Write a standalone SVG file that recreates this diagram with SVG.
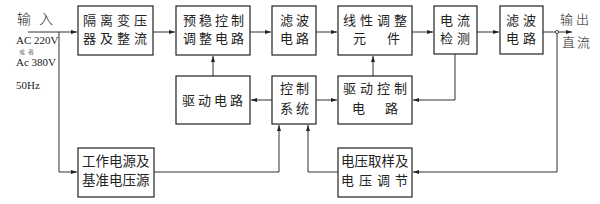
<svg xmlns="http://www.w3.org/2000/svg" width="600" height="204" viewBox="0 0 600 204">
<style>
.box{fill:#fff;stroke:#222;stroke-width:1.2}
.t{font-family:"Liberation Serif","Noto Sans CJK SC",serif;font-size:13px;fill:#222}
.c{font-family:"Noto Sans CJK SC",sans-serif;font-weight:300;font-size:13px;fill:#222}
.s{font-family:"Liberation Serif",serif;font-size:11px;fill:#222}
.ln{fill:none;stroke:#333;stroke-width:1}
</style>
<defs>
<marker id="a" viewBox="0 0 6 4" refX="6" refY="2" markerWidth="6" markerHeight="4" markerUnits="userSpaceOnUse" orient="auto">
<path d="M0,0L6,2L0,4z" fill="#222"/>
</marker>
</defs>
<rect width="600" height="204" fill="#fff"/>
<g id="labels">
<text class="c" x="17" y="24" style="font-size:14px;letter-spacing:8px">输入</text>
<text class="s" x="16" y="44">AC 220V</text>
<text class="c" x="19" y="54" style="font-size:6px;letter-spacing:3px">或者</text>
<text class="s" x="16" y="66">Ac 380V</text>
<text class="s" x="16" y="89">50Hz</text>
<text class="c" x="560" y="24" style="letter-spacing:3px">输出</text>
<text class="c" x="562" y="47" style="letter-spacing:2px">直流</text>
</g>
<g id="connectors">
<path class="ln" d="M28,32H77" marker-end="url(#a)"/>
<path class="ln" d="M59,32V172H77" marker-end="url(#a)"/>
<path class="ln" d="M153,32H175" marker-end="url(#a)"/>
<path class="ln" d="M250,32H271" marker-end="url(#a)"/>
<path class="ln" d="M316,32H337" marker-end="url(#a)"/>
<path class="ln" d="M412,32H433" marker-end="url(#a)"/>
<path class="ln" d="M477,32H499" marker-end="url(#a)"/>
<path class="ln" d="M543,32H555.5"/>
<path class="ln" d="M558.5,32H572" marker-end="url(#a)"/>
<path class="ln" d="M557,33.5V172H413" marker-end="url(#a)"/>
<path class="ln" d="M272,100H251" marker-end="url(#a)"/>
<path class="ln" d="M316,100H337" marker-end="url(#a)"/>
<path class="ln" d="M213,76V56" marker-end="url(#a)"/>
<path class="ln" d="M373,76V56" marker-end="url(#a)"/>
<path class="ln" d="M455,54V100H413" marker-end="url(#a)"/>
<path class="ln" d="M154,172H279V125" marker-end="url(#a)"/>
<path class="ln" d="M338,172H308V125" marker-end="url(#a)"/>
<circle cx="557" cy="32" r="1.6" fill="#fff" stroke="#333" stroke-width="0.9"/>
</g>
<g id="n1"><rect class="box" x="78" y="6" width="75" height="49"/>
<text class="t" x="83" y="24.5" style="letter-spacing:4px">隔离变压</text>
<text class="t" x="83" y="43" style="letter-spacing:4px">器及整流</text></g>
<g id="n2"><rect class="box" x="176" y="6" width="74" height="49"/>
<text class="t" x="183" y="24.5" style="letter-spacing:3px">预稳控制</text>
<text class="t" x="183" y="43" style="letter-spacing:3px">调整电路</text></g>
<g id="n3"><rect class="box" x="272" y="6" width="44" height="49"/>
<text class="t" x="280" y="24.5" style="letter-spacing:3px">滤波</text>
<text class="t" x="280" y="43" style="letter-spacing:3px">电路</text></g>
<g id="n4"><rect class="box" x="338" y="6" width="74" height="49"/>
<text class="t" x="343" y="24.5" style="letter-spacing:4px">线性调整</text>
<text class="t" x="353" y="43" style="letter-spacing:21px">元件</text></g>
<g id="n5"><rect class="box" x="434" y="6" width="43" height="48"/>
<text class="t" x="440" y="24.5" style="letter-spacing:4px">电流</text>
<text class="t" x="440" y="43" style="letter-spacing:4px">检测</text></g>
<g id="n6"><rect class="box" x="500" y="6" width="43" height="48"/>
<text class="t" x="506" y="24.5" style="letter-spacing:4px">滤波</text>
<text class="t" x="506" y="43" style="letter-spacing:4px">电路</text></g>
<g id="n7"><rect class="box" x="176" y="76" width="74" height="48"/>
<text class="t" x="182" y="105" style="letter-spacing:3px">驱动电路</text></g>
<g id="n8"><rect class="box" x="272" y="76" width="44" height="48"/>
<text class="t" x="280" y="93" style="letter-spacing:3px">控制</text>
<text class="t" x="280" y="113" style="letter-spacing:3px">系统</text></g>
<g id="n9"><rect class="box" x="338" y="76" width="74" height="48"/>
<text class="t" x="343" y="93" style="letter-spacing:4px">驱动控制</text>
<text class="t" x="352" y="113" style="letter-spacing:20px">电路</text></g>
<g id="n10"><rect class="box" x="78" y="148" width="76" height="49"/>
<text class="t" x="82" y="166" style="font-size:13.5px">工作电源及</text>
<text class="t" x="82" y="185" style="font-size:13.5px">基准电压源</text></g>
<g id="n11"><rect class="box" x="338" y="148" width="74" height="49"/>
<text class="t" x="341" y="166" style="font-size:13.5px">电压取样及</text>
<text class="t" x="341" y="185" style="letter-spacing:5px">电压调节</text></g>
</svg>
